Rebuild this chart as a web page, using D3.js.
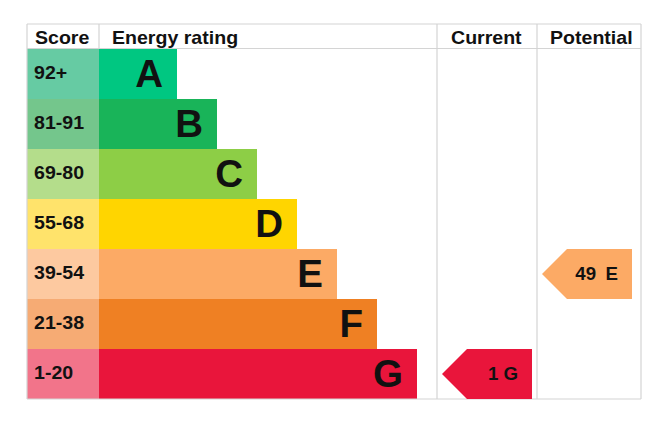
<!DOCTYPE html>
<html><head><meta charset="utf-8">
<script src="https://cdn.jsdelivr.net/npm/d3@7"></script>
<style>body{margin:0;background:#fff}svg{display:block}text{font-family:"Liberation Sans",Arial,sans-serif;font-weight:bold;fill:#111}</style>
</head><body><div id="c"></div>
<script>
const letters = ["A","B","C","D","E","F","G"];
const scoreRanges = ["92+","81-91","69-80","55-68","39-54","21-38","1-20"];
const barColors = ["#00c781","#19b459","#8dce46","#ffd500","#fcaa65","#ef8023","#e9153b"];
const scoreColors = ["#66cba3","#74c68c","#b4dd8b","#ffe36b","#fdc9a0","#f6ab74","#f2748a"];
const headers = ["Score","Energy rating","Current","Potential"];
const currentScore = 1, currentLetter = "G";
const potentialScore = 49, potentialLetter = "E";

(function(){
const W=667,H=423;
const svg=d3.select("#c").append("svg").attr("width",W).attr("height",H);
const gLeft=27,gRight=641,gTop=24,headH=24.5,gBottom=399;
const colX=[27,99,437,537,641];
const y=d3.scaleBand().domain(letters).range([gTop+headH+0.5,gBottom]);
const barEnd=d3.scaleLinear().domain([0,6]).range([177,417]);
const gridC="#d4d4d4";

function stretch(sel,k){
  sel.each(function(){
    const L=this.getComputedTextLength();
    d3.select(this).attr("textLength",L*k).attr("lengthAdjust","spacingAndGlyphs");
  });
}

svg.selectAll("rect.score").data(letters).join("rect")
  .attr("x",colX[0]).attr("y",d=>y(d)).attr("width",colX[1]-colX[0]).attr("height",y.bandwidth())
  .attr("fill",(d,i)=>scoreColors[i]);
svg.selectAll("rect.bar").data(letters).join("rect")
  .attr("x",colX[1]).attr("y",d=>y(d)).attr("width",(d,i)=>barEnd(i)-colX[1]).attr("height",y.bandwidth())
  .attr("fill",(d,i)=>barColors[i]);
const sr=svg.selectAll("text.sr").data(letters).join("text")
  .attr("x",34).attr("y",d=>y(d)+y.bandwidth()/2+5.3).attr("font-size",17.8)
  .text((d,i)=>scoreRanges[i]);
stretch(sr,1.1);
svg.selectAll("text.lt").data(letters).join("text")
  .attr("x",(d,i)=>barEnd(i)-14).attr("y",d=>y(d)+y.bandwidth()/2+13.3).attr("font-size",38.5)
  .attr("text-anchor","end").text(d=>d);

const g=svg.append("g").attr("stroke",gridC).attr("stroke-width",1.2).attr("fill","none");
[gTop,gTop+headH,gBottom].forEach(v=>g.append("line").attr("x1",gLeft).attr("x2",gRight).attr("y1",v).attr("y2",v));
colX.forEach((v,i)=>{
  const y2=(i===1)?gTop+headH:gBottom;
  g.append("line").attr("x1",v).attr("x2",v).attr("y1",gTop).attr("y2",y2);
});

const hx=[35,112,451,550];
const ht=svg.selectAll("text.hd").data(headers).join("text")
  .attr("x",(d,i)=>hx[i]).attr("y",44.3).attr("font-size",17.8).text(d=>d);
stretch(ht,1.1);

function arrow(score,letter,x0,x1,endX,extra){
  const yy=y(letter),hh=y.bandwidth();
  const tip=25;
  const idx=letters.indexOf(letter);
  svg.append("path").attr("d",`M${x0},${yy+hh/2}L${x0+tip},${yy}L${x1},${yy}L${x1},${yy+hh}L${x0+tip},${yy+hh}Z`)
    .attr("fill",barColors[idx]);
  const t=svg.append("text").attr("x",endX).attr("y",yy+hh/2+6).attr("font-size",17.8)
    .attr("text-anchor","end").attr("word-spacing",extra).text(score+" "+letter);
  stretch(t,1.05);
}
arrow(currentScore,currentLetter,442,532,518,0);
arrow(potentialScore,potentialLetter,542,632,618,4);
})();
</script></body></html>
